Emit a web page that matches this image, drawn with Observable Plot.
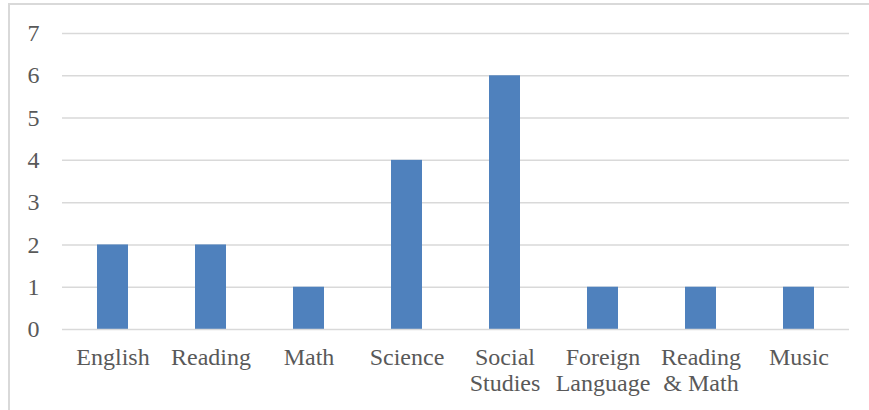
<!DOCTYPE html>
<html>
<head>
<meta charset="utf-8">
<script src="https://cdn.jsdelivr.net/npm/d3@7"></script>
<script src="https://cdn.jsdelivr.net/npm/@observablehq/plot@0.6"></script>
<style>
  html, body { margin: 0; padding: 0; background: #fff; overflow: hidden; }
  #wrap { position: relative; width: 869px; height: 410px; }
  #border {
    position: absolute; left: 8px; top: 3px; width: 900px; height: 500px;
    border: 2px solid #d9d9d9; box-sizing: border-box; pointer-events: none;
  }
  #chart { position: absolute; left: 0; top: 0; }
</style>
</head>
<body>
<div id="wrap">
  <div id="chart"></div>
  <div id="border"></div>
</div>
<script>
// Number of courses by subject
const subjects = ["English", "Reading", "Math", "Science", "Social Studies", "Foreign Language", "Reading & Math", "Music"];
const counts = [2, 2, 1, 4, 6, 1, 1, 1];
const yTicks = [0, 1, 2, 3, 4, 5, 6, 7];

const data = subjects.map((s, i) => ({subject: s, count: counts[i]}));

// Two-word labels wrap onto a second line at the first space
const wrapLabel = (s) => {
  const i = s.indexOf(" ");
  return i < 0 ? s : s.slice(0, i) + "\n" + s.slice(i + 1);
};

const chart = Plot.plot({
  width: 869,
  height: 410,
  marginLeft: 62,
  marginRight: 20,
  marginTop: 33,
  marginBottom: 81,
  style: {fontFamily: "'Liberation Serif', 'Times New Roman', serif", fontSize: "24px", color: "#595959", background: "transparent"},
  x: {domain: subjects, paddingInner: 0.685, paddingOuter: 0.3425, label: null},
  y: {domain: [0, 7], label: null},
  marks: [
    Plot.ruleY(yTicks.slice(1), {stroke: "#d9d9d9", strokeWidth: 1.5}),
    Plot.barY(data, {x: "subject", y: "count", fill: "#4f81bd"}),
    Plot.ruleY([0], {stroke: "#d9d9d9", strokeWidth: 1.5}),
    Plot.axisY({ticks: yTicks, tickFormat: d3.format("d"), tickSize: 0, tickPadding: 23, fill: "#595959", fontSize: 24}),
    Plot.axisX({tickSize: 0, tickPadding: 16, tickFormat: wrapLabel, lineHeight: 1.12, fill: "#595959", fontSize: 24})
  ]
});
document.getElementById("chart").appendChild(chart);
</script>
</body>
</html>
